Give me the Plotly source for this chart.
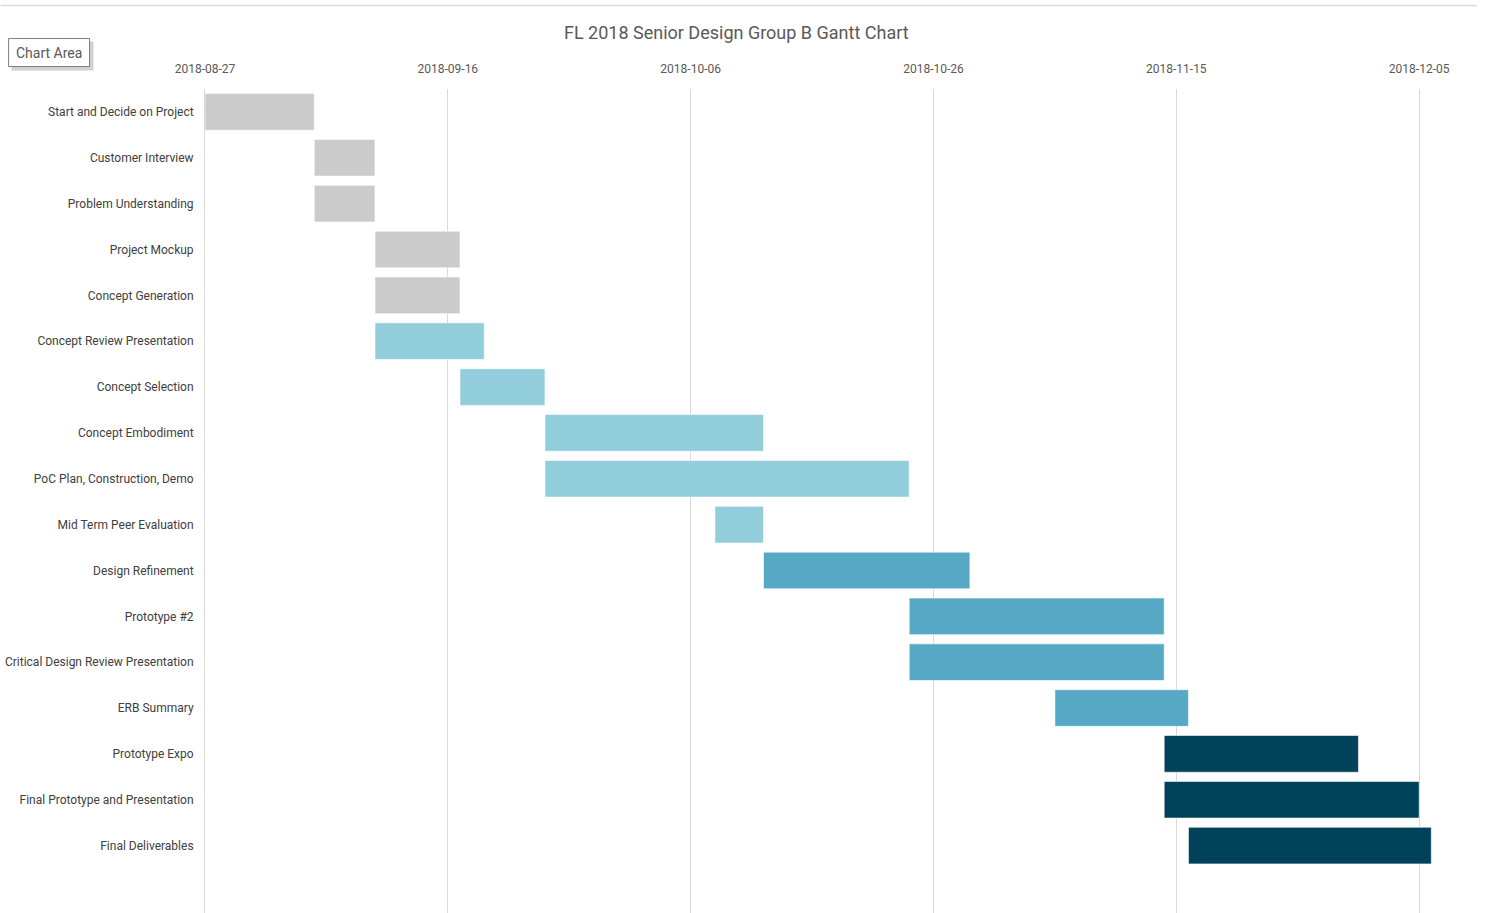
import plotly.graph_objects as go
import pandas as pd

tasks = ["Start and Decide on Project", "Customer Interview", "Problem Understanding",
         "Project Mockup", "Concept Generation", "Concept Review Presentation",
         "Concept Selection", "Concept Embodiment", "PoC Plan, Construction, Demo",
         "Mid Term Peer Evaluation", "Design Refinement", "Prototype #2",
         "Critical Design Review Presentation", "ERB Summary", "Prototype Expo",
         "Final Prototype and Presentation", "Final Deliverables"]
starts = ["2018-08-27", "2018-09-05", "2018-09-05", "2018-09-10", "2018-09-10",
          "2018-09-10", "2018-09-17", "2018-09-24", "2018-09-24", "2018-10-08",
          "2018-10-12", "2018-10-24", "2018-10-24", "2018-11-05", "2018-11-14",
          "2018-11-14", "2018-11-16"]
ends = ["2018-09-05", "2018-09-10", "2018-09-10", "2018-09-17", "2018-09-17",
        "2018-09-19", "2018-09-24", "2018-10-12", "2018-10-24", "2018-10-12",
        "2018-10-29", "2018-11-14", "2018-11-14", "2018-11-16", "2018-11-30",
        "2018-12-05", "2018-12-06"]
phases = ["gray", "gray", "gray", "gray", "gray", "light", "light", "light", "light",
          "light", "mid", "mid", "mid", "mid", "dark", "dark", "dark"]
phase_colors = {"gray": "#CBCBCB", "light": "#92CDDC", "mid": "#57A8C4", "dark": "#00425A"}

s = pd.to_datetime(starts)
e = pd.to_datetime(ends)
dur_ms = [(b - a).total_seconds() * 1000 for a, b in zip(s, e)]
ypos = list(range(len(tasks)))

fig = go.Figure()
fig.add_trace(go.Bar(
    orientation="h",
    y=ypos,
    x=dur_ms,
    base=starts,
    marker=dict(color=[phase_colors[p] for p in phases],
                line=dict(color="rgba(255,255,255,0.6)", width=1)),
    width=0.8,
    hoverinfo="skip",
))

L, R, T, B = 204.5, 17, 88.5, 0
W, H = 1487, 913
pw = W - L - R
ph = H - T - B

fig.update_layout(
    width=W, height=H,
    margin=dict(l=L, r=R, t=T, b=B),
    paper_bgcolor="white", plot_bgcolor="white",
    showlegend=False,
    font=dict(family="Roboto, sans-serif", color="#404040"),
    title=dict(text="FL 2018 Senior Design Group B Gantt Chart",
               x=(736 - L) / pw, xref="paper", xanchor="center",
               y=1 - 33 / H, yanchor="middle",
               font=dict(size=18, color="#595959")),
    bargap=0.2,
)
fig.update_xaxes(
    type="date", side="top",
    range=["2018-08-27", "2018-12-09 04:30"],
    tick0="2018-08-27", dtick=20 * 86400000,
    tickformat="%Y-%m-%d",
    showgrid=True, gridcolor="#D9D9D9", gridwidth=1,
    zeroline=False, showline=False, ticks="",
    tickfont=dict(size=12, color="#595959"),
    ticklabelstandoff=13,
)
fig.update_yaxes(
    range=[17.47, -0.5],
    tickmode="array", tickvals=ypos, ticktext=tasks,
    showgrid=False, zeroline=False,
    showline=True, linecolor="#D9D9D9", linewidth=1,
    ticks="",
    tickfont=dict(size=12, color="#404040"),
    ticklabelstandoff=8,
)

# top border line
fig.add_shape(type="line", xref="paper", yref="paper",
              x0=(0 - L) / pw, x1=(1477 - L) / pw,
              y0=(H - 5) / ph, y1=(H - 5) / ph,
              line=dict(color="#D9D9D9", width=1.5))
# "Chart Area" tooltip box with shadow
fig.add_shape(type="rect", xref="paper", yref="paper",
              x0=(11 - L) / pw, x1=(93 - L) / pw,
              y0=(H - 70) / ph, y1=(H - 41) / ph,
              line=dict(width=0), fillcolor="rgba(0,0,0,0.18)", layer="above")
fig.add_shape(type="rect", xref="paper", yref="paper",
              x0=(8 - L) / pw, x1=(89 - L) / pw,
              y0=(H - 66) / ph, y1=(H - 38) / ph,
              line=dict(color="#7F7F7F", width=1), fillcolor="white", layer="above")
fig.add_annotation(text="Chart Area", xref="paper", yref="paper",
                   x=(48.5 - L) / pw, y=(H - 52) / ph,
                   xanchor="center", yanchor="middle", showarrow=False,
                   font=dict(size=14, color="#595959"))

fig.write_html("out.html")
